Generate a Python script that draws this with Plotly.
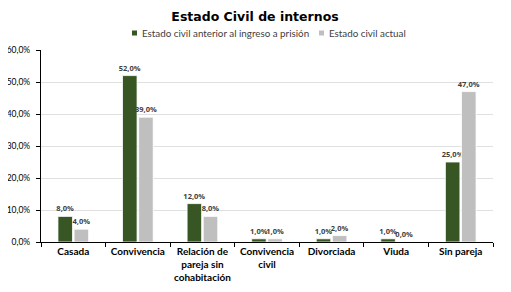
import plotly.graph_objects as go

categories = ["Casada", "Convivencia", "Relación de<br>pareja sin<br>cohabitación",
              "Convivencia<br>civil", "Divorciada", "Viuda", "Sin pareja"]
anterior = [8, 52, 12, 1, 1, 1, 25]
actual = [4, 39, 8, 1, 2, 0, 47]
series_names = ["Estado civil anterior al ingreso a prisión", "Estado civil actual"]
series_colors = ["#375623", "#bfbfbf"]
y_ticks = [0, 10, 20, 30, 40, 50, 60]
y_tick_labels = ["0,0%", "10,0%", "20,0%", "30,0%", "40,0%", "50,0%", "60,0%"]

font_family = "Lato, DejaVu Sans, sans-serif"

# page body has an 8px margin: figure is 503x284 so that it fills the 511x292 window
W, H = 503, 284
ML, MR, MT, MB = 33, 18, 42, 50
PW, PH = W - ML - MR, H - MT - MB


def px_x(x):  # figure pixel -> paper x
    return (x - ML) / PW


def px_y(y):  # figure pixel -> paper y
    return (H - MB - y) / PH


fig = go.Figure()
for name, vals, color in zip(series_names, [anterior, actual], series_colors):
    fig.add_trace(go.Bar(
        x=categories, y=vals, name=name, showlegend=False,
        marker=dict(color=color, line=dict(color="white", width=0.8)),
        texttemplate="%{y:.1f}%", textposition="outside", constraintext="none",
        textfont=dict(size=7.5, color="#404040", family="Open Sans, sans-serif", weight="bold"),
        cliponaxis=False,
    ))

# legend drawn as small squares + text (Excel style compact legend)
legend_y = 25
legend_items = [(124, 132), (311, 319)]  # (square left, text left) in figure px
for (sq_x, tx_x), name, color in zip(legend_items, series_names, series_colors):
    fig.add_shape(type="rect", xref="paper", yref="paper",
                  x0=px_x(sq_x), x1=px_x(sq_x + 5), y0=px_y(legend_y + 2.5), y1=px_y(legend_y - 2.5),
                  fillcolor=color, line=dict(width=0))
    fig.add_annotation(text=name, xref="paper", yref="paper", x=px_x(tx_x), y=px_y(legend_y),
                       xanchor="left", yanchor="middle", showarrow=False,
                       font=dict(size=9.8, color="#404040", family=font_family))

fig.update_layout(
    width=W, height=H,
    margin=dict(l=ML, r=MR, t=MT, b=MB),
    paper_bgcolor="white", plot_bgcolor="white",
    separators=",.",
    barmode="group", bargap=0.5, bargroupgap=0.1,
    title=dict(text="<b>Estado Civil de internos</b>", x=247 / W, xanchor="center",
               y=1 - 9 / H, yanchor="middle",
               font=dict(size=12.5, color="#000000", family="DejaVu Sans, sans-serif")),
    showlegend=False,
    font=dict(family=font_family),
)
fig.update_yaxes(range=[0, 60], tickvals=y_ticks, ticktext=y_tick_labels,
                 showgrid=True, gridcolor="#e0e0e0", gridwidth=1,
                 showline=True, linecolor="black", linewidth=1.2,
                 ticks="outside", ticklen=4, tickcolor="black", ticklabelstandoff=4,
                 tickfont=dict(size=8.5, color="#000000", family=font_family),
                 zeroline=False, automargin=False)
fig.update_xaxes(showline=True, linecolor="black", linewidth=1.2,
                 ticks="outside", ticklen=4, tickcolor="black", tickson="boundaries",
                 tickangle=0,
                 tickfont=dict(size=10, color="#000000", family=font_family, weight="bold"),
                 automargin=False)

fig.write_html("out.html")
